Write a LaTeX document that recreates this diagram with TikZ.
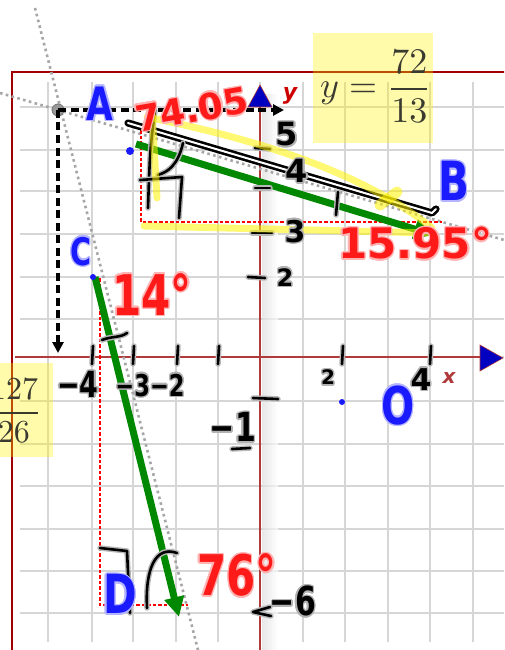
\documentclass[tikz,border=0pt]{standalone}
\usepackage{fontspec}
\usepackage{amsmath}
\usepackage[copies]{contour}
\usetikzlibrary{arrows.meta}
\newfontfamily\hand{DejaVu Sans}
\newfontfamily\handnarrow[FakeStretch=0.75]{DejaVu Sans}
\contourlength{1.4pt}
\definecolor{framered}{HTML}{A00000}
\definecolor{axisred}{HTML}{B03A3A}
\definecolor{vecgreen}{HTML}{008800}
\definecolor{inkred}{HTML}{FF1A1A}
\definecolor{inkblue}{HTML}{1A1AFF}
\definecolor{halored}{HTML}{FFB4B4}
\definecolor{haloblue}{HTML}{B4B4FF}
\definecolor{tipblue}{HTML}{0000C0}
\definecolor{fractext}{HTML}{3A3A30}
\tikzset{
  gridline/.style={draw=black!16, line width=1.6pt},
  axisline/.style={draw=axisred, line width=1.8pt},
  guide/.style={draw=black!35, line width=2.6pt, dash pattern=on 2.6pt off 3.4pt},
  helper/.style={draw=black, line width=3.6pt, dash pattern=on 8pt off 4.5pt,
    -{Triangle[length=11pt,width=11pt]}},
  proj/.style={draw=red, line width=1.1pt, dash pattern=on 3.5pt off 2pt},
  vec/.style={draw=vecgreen, line width=7pt, -{Triangle[length=20pt,width=19pt]}},
  inkline/.style={draw=black, line width=2.6pt, line cap=round, line join=round,
    preaction={draw=black!28, line width=5.5pt, line cap=round, line join=round}},
  marker/.style={draw=yellow, opacity=.55, line width=7pt, line cap=round, line join=round},
  ink/.style={inner sep=0pt},
  handfont/.style={font=\hand\bfseries\fontsize{#1}{#1}\selectfont},
  narrowfont/.style={font=\handnarrow\bfseries\fontsize{#1}{#1}\selectfont},
  fracbox/.style={fill=yellow, opacity=.33}
}

\begin{document}
\begin{tikzpicture}[x=1pt, y=-1pt]

\useasboundingbox (0,0) rectangle (504,650);
\clip (0,0) rectangle (504,650);

% ------------------------------------------------------------
% Grid, frame and axes
% ------------------------------------------------------------

\foreach \gx in {48,92,133,176,218,260,303,345,388,430,473}
  \draw[gridline] (\gx,82) -- (\gx,642);
\foreach \gy in {107,150,191,234,277,319,357,401,444,486,529,571,613}
  \draw[gridline] (20,\gy) -- (504,\gy);

\draw[framered, line width=1.6pt] (12,660) -- (12,72) -- (520,72);

% shadow next to the y-axis
\shade[left color=black!13, right color=white, opacity=.7] (262,95) rectangle (278,650);

\coordinate (O) at (260,357);
\coordinate (xend) at (482,357);
\coordinate (yend) at (260,105);
\draw[axisline] (15,357) -- (xend);
\draw[axisline] (260,650) -- (yend);
\filldraw[fill=tipblue, draw=axisred, line width=.6pt] (480,345) -- (503,358) -- (480,371) -- cycle;
\filldraw[fill=tipblue, draw=axisred, line width=.6pt] (248,107) -- (260,85) -- (272,107) -- cycle;
\node[text=axisred, font=\hand\bfseries\itshape\fontsize{20}{20}\selectfont] (xlbl) at (449,378) {x};
\node[text=red!80!black, font=\hand\bfseries\itshape\fontsize{22}{22}\selectfont] (ylbl) at (290,96) {y};

% ------------------------------------------------------------
% Construction lines
% ------------------------------------------------------------

\coordinate (g1) at (35,8);
\coordinate (g2) at (198,650);
\coordinate (h1) at (0,93);
\coordinate (h2) at (504,240);
\draw[guide] (g1) -- (g2);
\draw[guide] (h1) -- (h2);

\coordinate (A) at (58,110);
\filldraw[fill=black!40, draw=black!55, line width=.8pt] (A) circle (6);

% projections
\coordinate (p1) at (141,130);
\coordinate (p2) at (141,222);
\coordinate (p3) at (442,222);
\coordinate (q1) at (100,278);
\coordinate (q2) at (100,605);
\coordinate (q3) at (188,605);
\draw[proj] (p1) -- (p2) -- (p3);
\draw[proj] (q1) -- (q2) -- (q3);

% vectors
\coordinate (ab0) at (136,144);
\coordinate (ab1) at (434,235);
\coordinate (cd0) at (95,277);
\coordinate (cd1) at (179,617);
\draw[vec] (ab0) -- (ab1);
\draw[vec] (cd0) -- (cd1);

% dashed helpers from A
\coordinate (Ay) at (284,110);
\coordinate (Ax) at (58,353);
\draw[helper] (A) -- (Ay);
\draw[helper] (A) -- (Ax);

% ------------------------------------------------------------
% Pen strokes
% ------------------------------------------------------------

\draw[inkline, double=white, double distance=2pt, line width=2.6pt] (128,123) -- (432,213) -- (436,209);
\draw[inkline] (155,110) .. controls (150,150) .. (148,208);
\draw[inkline] (183,143) .. controls (178,165) and (168,172) .. (158,175);
\draw[inkline] (140,180) -- (182,177) -- (179,218);
\draw[inkline] (338,192) -- (336,215);
\draw[inkline] (102,340) .. controls (112,336) and (120,338) .. (127,333);
\draw[inkline] (100,548) -- (127,551) -- (130,613);
\draw[inkline] (177,553) .. controls (155,545) and (145,570) .. (147,608);

% ticks on the axes
\foreach \tx in {92,133,177,218,342,430}
  \draw[inkline] (\tx+1,346) -- (\tx,364);
\draw[inkline] (255,148) -- (270,149);
\draw[inkline] (255,188) -- (270,188);
\draw[inkline] (252,233) -- (272,233);
\draw[inkline] (248,277) -- (265,278);
\draw[inkline] (253,398) -- (278,399);
\draw[inkline] (232,449) -- (250,448);
\draw[inkline] (270,607) -- (253,612) -- (271,616);

% yellow marker
\draw[marker] (152,112) -- (157,198);
\draw[marker] (147,117) .. controls (250,138) and (360,170) .. (432,228);
\draw[marker] (144,226) -- (432,233);
\draw[marker, line width=11pt] (380,205) -- (397,192);

% blue dots
\fill[inkblue] (130,151) circle (4);
\fill[inkblue] (342,402) circle (3);
\fill[inkblue] (93,277) circle (3);

% ------------------------------------------------------------
% Results in boxes
% ------------------------------------------------------------

\fill[fracbox] (313,33) rectangle (433,143);
\node[anchor=base west, inner sep=0pt, text=fractext]
  (yval) at (320,98) {\scalebox{3.6}{$y=\dfrac{72}{13}$}};
\fill[fracbox] (-10,363) rectangle (53,457);
\node[anchor=base, inner sep=0pt, text=fractext]
  (xval) at (14,421) {\scalebox{3.2}{$\dfrac{127}{26}$}};

% ------------------------------------------------------------
% Handwritten labels
% ------------------------------------------------------------

\node[ink, text=inkblue, narrowfont=46] (labA) at (100,104) {\contour{haloblue}{A}};
\node[ink, text=inkblue, narrowfont=54] (labB) at (454,182) {\contour{haloblue}{B}};
\node[ink, text=inkblue, narrowfont=38] (labC) at (81,252) {\contour{haloblue}{C}};
\node[ink, text=inkblue, narrowfont=54] (labD) at (120,595) {\contour{haloblue}{D}};
\node[ink, text=inkblue, narrowfont=52] (labO) at (398,406) {\contour{haloblue}{O}};

\node[ink, text=inkred, handfont=36, rotate=10] (angA) at (192,110) {\contour{halored}{74.05}};
\node[ink, text=inkred, handfont=42, anchor=west] (angB) at (338,244) {\contour{halored}{15.95°}};
\node[ink, text=inkred, narrowfont=56] (angC) at (152,295) {\contour{halored}{14°}};
\node[ink, text=inkred, narrowfont=56] (angD) at (237,576) {\contour{halored}{76°}};

\node[ink, handfont=32] (y5) at (287,135) {\contour{black!30}{5}};
\node[ink, handfont=32] (y4) at (297,172) {\contour{black!30}{4}};
\node[ink, handfont=30] (y3) at (295,232) {\contour{black!30}{3}};
\node[ink, handfont=24] (y2) at (285,278) {\contour{black!30}{2}};
\node[ink, narrowfont=40] (ym1) at (233,428) {\contour{black!30}{−1}};
\node[ink, narrowfont=40] (ym6) at (293,602) {\contour{black!30}{−6}};
\node[ink, narrowfont=36] (xm4) at (78,385) {\contour{black!30}{−4}};
\node[ink, narrowfont=30] (xm32) at (150,386) {\contour{black!30}{−3−2}};
\node[ink, handfont=20] (x2) at (328,378) {\contour{black!30}{2}};
\node[ink, handfont=30] (x4) at (421,380) {\contour{black!30}{4}};

\end{tikzpicture}
\end{document}
